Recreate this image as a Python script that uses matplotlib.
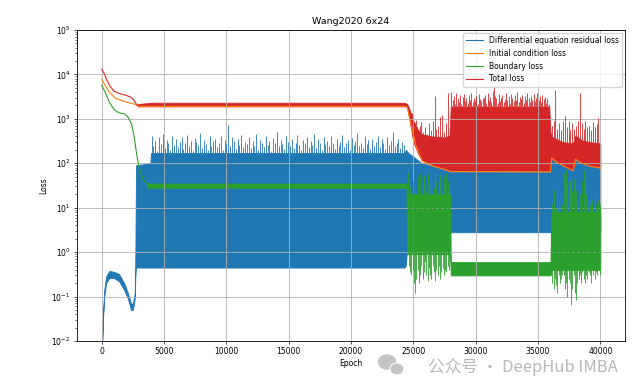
import numpy as np
import matplotlib
matplotlib.use("Agg")
import matplotlib.pyplot as plt
from matplotlib.patches import Ellipse

# ---- data (epochs / loss values) ----
# smooth start of the curves
red_line_epoch = [0, 200, 400, 700, 1000, 1400, 1900, 2300, 2500, 2700, 2850, 3000]
red_line_val = [13000, 10500, 7500, 5200, 4200, 3700, 3400, 3100, 2800, 2300, 2000, 1950]

orange_epoch = [0, 300, 600, 1100, 1700, 2300, 2700, 3000, 24300, 24500, 24800, 25200, 25700,
                26500, 27500, 28000, 36000, 36100, 36500, 37000, 37800, 38000, 38500, 39200, 40000]
orange_val = [7800, 5500, 4000, 2900, 2500, 2250, 2100, 1900, 1900, 1800, 800, 250, 112,
              88, 72, 65, 64, 130, 105, 88, 68, 122, 100, 85, 78]

green_line_epoch = [0, 300, 600, 1000, 1400, 1800, 2100, 2400, 2600, 2800, 3000, 3300, 3650, 4000]
green_line_val = [5700, 3800, 2400, 1600, 1350, 1300, 1100, 750, 400, 160, 80, 45, 33, 31]

# noisy parts: lower / upper envelope
red_band_epoch = [2900, 4000, 24300, 24500, 24700, 25000, 25400, 25700, 26500, 27500, 27900,
                  28000, 35900, 36000, 36100, 36500, 37000, 37800, 38000, 38500, 39200, 40000]
red_low = [1900, 1900, 1900, 1850, 900, 300, 160, 118, 93, 76, 70,
           68, 67, 67, 137, 110, 92, 71, 128, 105, 89, 82]
red_high = [2150, 2300, 2300, 2150, 1600, 900, 550, 450, 400, 380, 420,
            1900, 1900, 500, 400, 350, 300, 280, 420, 330, 300, 280]

blue_band_epoch = [0, 100, 200, 350, 600, 1000, 1400, 1800, 2100, 2350, 2500, 2650, 2700, 2750,
                   3900, 3950, 24300, 24400, 24600, 25000, 25700, 27000, 28000, 36000, 36100,
                   37800, 38000, 40000]
blue_low = [0.004, 0.03, 0.1, 0.2, 0.26, 0.26, 0.22, 0.14, 0.09, 0.05, 0.05, 0.09, 0.3, 0.45,
            0.45, 0.45, 0.45, 0.5, 3, 3, 3, 3, 2.8, 2.8, 3, 3, 3, 3]
blue_high = [0.005, 0.04, 0.14, 0.28, 0.38, 0.36, 0.32, 0.2, 0.12, 0.07, 0.07, 0.12, 1, 90,
             100, 170, 170, 200, 170, 140, 100, 80, 64, 63, 125, 66, 118, 76]

green_band_epoch = [3650, 24300, 24450, 24500, 27950, 28000, 36000, 36050, 40000]
green_low = [28, 28, 28, 0.9, 0.9, 0.3, 0.3, 0.4, 0.4]
green_high = [35, 35, 35, 20, 20, 0.6, 0.6, 8, 8]

# spikes on top of the residual loss band, one every 150 epochs
blue_spike_epoch = list(range(4000, 24400, 150))
blue_spike_peak = [
    420, 250, 310, 190, 380, 270, 450, 220, 330, 290, 200, 410, 260, 350, 230, 300, 390,
    210, 280, 440, 240, 320, 190, 370, 300, 260, 480, 220, 340, 270, 200, 400, 250, 310,
    360, 230, 290, 420, 200, 330, 270, 720, 240, 380, 310, 210, 350, 260, 440, 230, 300,
    270, 390, 220, 320, 250, 460, 200, 340, 280, 230, 410, 260, 310, 190, 370, 290, 510,
    240, 330, 270, 210, 400, 300, 250, 360, 220, 290, 430, 260, 200, 340, 280, 380, 230,
    310, 260, 450, 220, 350, 280, 200, 390, 270, 320, 240, 410, 290, 210, 360, 250, 300,
    430, 230, 280, 340, 200, 370, 260, 310, 480, 240, 290, 220, 400, 270, 330, 210, 360,
    250, 300, 420, 230, 350, 280, 210, 380, 260, 320, 510, 240, 290, 360, 220, 300, 260]

# spikes on top of the total loss band
red_spike_epoch = (list(range(24600, 27900, 150)) + list(range(28050, 35900, 100))
                   + list(range(36100, 40000, 150)))
red_spike_peak = [
    1900, 1500, 1320, 700, 940, 600, 700, 850, 500, 650, 450, 790, 550, 900, 3200, 600,
    700, 1100, 1230, 500, 800, 3740,
    4060, 2600, 3300, 2200, 3800, 2900, 2400, 3500, 2100, 3100, 3700, 2500, 2900, 2300,
    3400, 2700, 3900, 2400, 3000, 2600,
    3300, 2200, 3600, 2800, 2500, 2900, 2900, 3400, 2300, 3800, 2700, 3100, 2400, 4200,
    5460, 3200, 2900, 2300, 3700, 2500,
    3000, 3500, 2400, 2800, 3900, 2600, 3300, 2200, 3600, 2900, 2500, 3400, 2700, 4000,
    2400, 3100, 2800, 3500, 2300, 3200,
    2600, 3800, 2900, 2400, 3300, 2700, 3600, 2500, 3000, 3900, 2600, 3200, 2400, 3500,
    2800, 3100, 2300, 2900, 2200,
    700, 900, 4500, 600, 800, 550, 900, 1130, 650, 900, 550, 800, 600, 700, 900, 3740,
    800, 600, 900, 650, 700, 550, 850, 650, 750, 1030]

# boundary loss oscillations (epoch, bottom, top)
green_spike_epoch = list(range(24550, 27950, 100)) + list(range(36050, 40000, 100))
green_spike_bot = [
    1, 0.5, 0.35, 0.3, 0.39, 0.2, 0.12, 0.25, 0.4, 0.2, 0.3, 0.5, 0.25, 0.35, 0.6, 0.3, 0.22,
    0.45, 0.3, 0.25, 0.5, 0.35, 0.22, 0.4, 0.3, 0.5, 0.25, 0.35, 0.45, 0.3, 0.4, 0.35, 0.5, 0.4,
    0.3, 0.2, 0.15, 0.25, 0.18, 0.12, 0.3, 0.2, 0.25, 0.3, 0.3, 0.15, 0.2, 0.1, 0.25, 0.2,
    0.065, 0.15, 0.3, 0.12, 0.085, 0.2, 0.25, 0.3, 0.2, 0.35, 0.25, 0.2, 0.3, 0.25, 0.35, 0.3,
    0.2, 0.4, 0.3, 0.25, 0.35, 0.3, 0.4, 0.3]
green_spike_top = [
    60, 45, 30, 25, 40, 20, 35, 15, 50, 25, 60, 20, 40, 55, 30, 22, 60,
    45, 18, 50, 35, 28, 60, 40, 20, 45, 55, 30, 25, 50, 35, 60, 40, 30,
    8, 12, 25, 6, 10, 30, 15, 8, 20, 12, 60, 45, 70, 35, 50, 40,
    60, 25, 45, 40, 25, 15, 30, 20, 12, 40, 70, 50, 20, 30, 15, 12,
    20, 15, 10, 25, 12, 10, 15, 12]

labels = ["Differential equation residual loss", "Initial condition loss",
          "Boundary loss", "Total loss"]
c_blue, c_orange, c_green, c_red = "#1f77b4", "#ff7f0e", "#2ca02c", "#d62728"

plt.rcParams["font.size"] = 5.5
fig = plt.figure(figsize=(6.4, 3.88), dpi=100)
ax = fig.add_axes([0.120, 0.121, 0.857, 0.802])

# residual loss
ax.fill_between(blue_band_epoch, blue_low, blue_high, color=c_blue, lw=0.6)
ax.vlines(blue_spike_epoch, np.interp(blue_spike_epoch, blue_band_epoch, blue_high),
          blue_spike_peak, color=c_blue, lw=0.6)
ax.plot([], [], color=c_blue, lw=0.8, label=labels[0])

# initial condition loss
ax.plot(orange_epoch, orange_val, color=c_orange, lw=0.8, label=labels[1])

# boundary loss
ax.plot(green_line_epoch, green_line_val, color=c_green, lw=0.8, label=labels[2])
ax.fill_between(green_band_epoch, green_low, green_high, color=c_green, lw=0.6)
ax.vlines(green_spike_epoch, green_spike_bot, green_spike_top, color=c_green, lw=0.6)

# total loss
ax.plot(red_line_epoch, red_line_val, color=c_red, lw=0.8, label=labels[3])
ax.fill_between(red_band_epoch, red_low, red_high, color=c_red, lw=0.6)
ax.vlines(red_spike_epoch, np.interp(red_spike_epoch, red_band_epoch, red_high),
          red_spike_peak, color=c_red, lw=0.6)

ax.set_yscale("log")
ax.set_ylim(1e-2, 1e5)
ax.set_xlim(-2000, 42000)
ax.set_xticks(range(0, 40001, 5000))
ax.grid(True, color="#b0b0b0", lw=0.6)
ax.set_title("Wang2020 6x24", fontsize=6.8, pad=4)
ax.set_xlabel("Epoch", labelpad=2)
ax.set_ylabel("Loss", labelpad=2)
ax.tick_params(labelsize=5.5, width=0.5, length=2.5, pad=2)
ax.tick_params(which="minor", width=0.4, length=1.5)
for s in ax.spines.values():
    s.set_linewidth(0.6)
ax.legend(loc="upper right", fontsize=5.5, framealpha=0.8, handlelength=2.2,
          borderaxespad=0.4)

# watermark
fig.add_artist(Ellipse((387 / 640, 1 - 362 / 388), 17 / 640, 14 / 388,
                       transform=fig.transFigure, color="#c4c4c4"))
fig.add_artist(Ellipse((397 / 640, 1 - 369 / 388), 14 / 640, 12 / 388,
                       transform=fig.transFigure, facecolor="#c4c4c4",
                       edgecolor="white", lw=0.8))
fig.text(0.966, 0.053, "公众号 · DeepHub IMBA", ha="right", va="center",
         fontsize=12, color="#b8b8b8", family=["Noto Sans CJK SC", "DejaVu Sans"])

fig.savefig("out.png", dpi=100)
